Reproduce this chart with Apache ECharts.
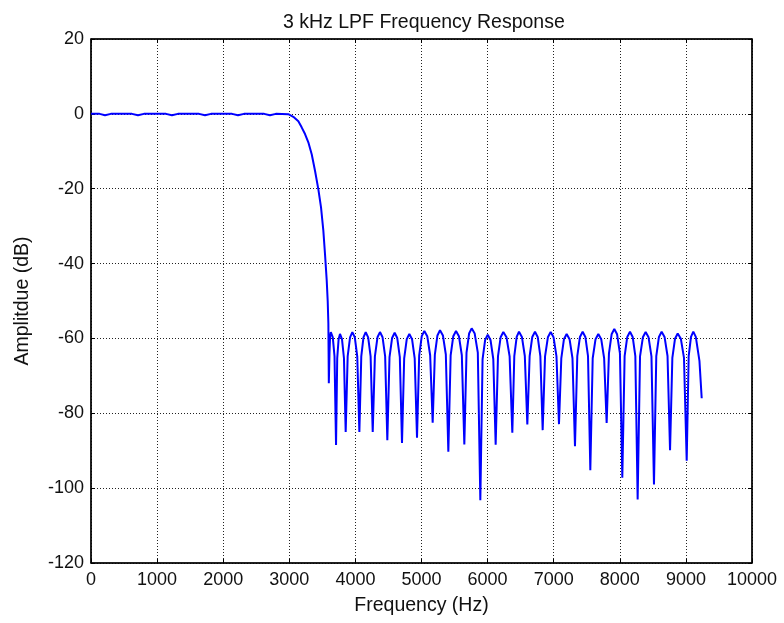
<!DOCTYPE html>
<html>
<head>
<meta charset="utf-8">
<script src="https://cdn.jsdelivr.net/npm/echarts@6/dist/echarts.min.js"></script>
<style>
html,body{margin:0;padding:0;background:#fff;}
#chart{width:784px;height:623px;}
</style>
</head>
<body>
<div id="chart"></div>
<script>
var chartTitle = '3 kHz LPF Frequency Response';
var xAxisName = 'Frequency (Hz)';
var yAxisName = 'Amplitdue (dB)';

// Passband + transition band
var passFreq = [0, 130, 212, 300, 620, 711, 800, 1135, 1225, 1315, 1635, 1725, 1815, 2134, 2224, 2314, 2620, 2708, 2796, 2985, 3061, 3137, 3187, 3238, 3288, 3339, 3389, 3439, 3480, 3515, 3540, 3566, 3581, 3591, 3598];
var passAmp  = [0, 0, -0.35, 0, 0, -0.35, 0, 0, -0.35, 0, 0, -0.35, 0, 0, -0.35, 0, 0, -0.35, 0, -0.1, -0.8, -2.0, -3.6, -5.4, -7.6, -10.8, -15.2, -20.1, -25, -31.2, -37.4, -44.5, -50, -56, -72];

// Stopband ripple (lobes and nulls)
var stopFreq = [
  3608, 3617, 3628, 3658, 3684, 3707,
  3725, 3746, 3767, 3797, 3827, 3853,
  3883, 3919, 3954, 3991, 4028, 4060,
  4089, 4122, 4156, 4193, 4230, 4262,
  4295, 4334, 4372, 4411, 4450, 4483,
  4516, 4555, 4594, 4633, 4672, 4705,
  4738, 4777, 4816, 4857, 4897, 4932,
  4965, 5004, 5043, 5087, 5131, 5169,
  5202, 5241, 5280, 5324, 5368, 5406,
  5441, 5481, 5522, 5566, 5610, 5648,
  5681, 5720, 5759, 5805, 5852, 5890,
  5924, 5963, 6002, 6044, 6086, 6122,
  6157, 6197, 6238, 6286, 6333, 6374,
  6404, 6440, 6475, 6519, 6563, 6601,
  6636, 6676, 6717, 6758, 6798, 6833,
  6869, 6912, 6954, 6998, 7042, 7080,
  7115, 7155, 7196, 7240, 7284, 7322,
  7357, 7397, 7438, 7479, 7519, 7554,
  7590, 7633, 7675, 7719, 7763, 7801,
  7836, 7876, 7917, 7959, 8002, 8038,
  8073, 8113, 8154, 8195, 8235, 8270,
  8306, 8349, 8391, 8435, 8479, 8517,
  8552, 8592, 8633, 8677, 8722, 8760,
  8795, 8835, 8876, 8924, 8971, 9012,
  9042, 9077, 9112, 9150, 9205, 9239
];
var stopAmp = [
  -64, -59.5, -58.3, -59.7, -64.8, -88.5,
  -65.3, -60.2, -58.8, -60.2, -65.3, -85,
  -64.8, -59.7, -58.3, -59.7, -64.8, -85,
  -64.8, -59.7, -58.3, -59.7, -64.8, -85,
  -64.8, -59.7, -58.3, -59.7, -64.8, -87.2,
  -65, -59.9, -58.5, -59.9, -65, -87.9,
  -65.3, -60.2, -58.8, -60.2, -65.3, -86.5,
  -64.5, -59.4, -58, -59.4, -64.5, -82.5,
  -64.3, -59.2, -57.8, -59.2, -64.3, -90.3,
  -64.5, -59.4, -58, -59.4, -64.5, -88.3,
  -63.8, -58.7, -57.3, -58.7, -63.8, -103.2,
  -65.5, -60.4, -59, -60.4, -65.5, -88.4,
  -64.8, -59.7, -58.3, -59.7, -64.8, -85.2,
  -64.7, -59.6, -58.2, -59.6, -64.7, -83,
  -64.7, -59.6, -58.2, -59.6, -64.7, -84.5,
  -64.8, -59.7, -58.3, -59.7, -64.8, -82.9,
  -65.3, -60.2, -58.8, -60.2, -65.3, -88.8,
  -64.7, -59.6, -58.2, -59.6, -64.7, -95.2,
  -65.3, -60.2, -58.8, -60.2, -65.3, -82.6,
  -64, -58.9, -57.5, -58.9, -64, -97.2,
  -64.7, -59.6, -58.2, -59.6, -64.7, -103,
  -64.8, -59.7, -58.3, -59.7, -64.8, -99,
  -64.7, -59.6, -58.2, -59.6, -64.7, -89.9,
  -65.2, -60.1, -58.7, -60.1, -65.2, -92.7,
  -64.7, -59.6, -58.2, -59.6, -66, -76
];

var xMin = 0, xMax = 10000, xStep = 1000;
var yMin = -120, yMax = 20, yStep = 20;

var freq = passFreq.concat(stopFreq);
var amp = passAmp.concat(stopAmp);
var seriesData = freq.map(function (f, i) { return [f, amp[i]]; });

var font = 'Liberation Sans, Arial, sans-serif';
var gridLine = { show: true, lineStyle: { color: '#222', type: [1, 2], width: 1 } };
var plain = function (v) { return String(v); };

var chart = echarts.init(document.getElementById('chart'), null, { renderer: 'canvas' });
chart.setOption({
  backgroundColor: '#fff',
  animation: false,
  title: {
    text: chartTitle,
    left: 278,
    top: 8,
    textStyle: { fontFamily: font, fontSize: 19.5, fontWeight: 'normal', color: '#111' }
  },
  grid: { left: 91, right: 32, top: 39, bottom: 60, show: true, borderColor: '#000', borderWidth: 1, backgroundColor: '#fff' },
  xAxis: [{
    type: 'value', min: xMin, max: xMax, interval: xStep,
    name: xAxisName, nameLocation: 'middle', nameGap: 33,
    nameTextStyle: { fontFamily: font, fontSize: 19.5, color: '#111' },
    axisLine: { show: true, onZero: false, lineStyle: { color: '#000', width: 1.5 } },
    axisTick: { show: true, inside: true, length: 4, lineStyle: { color: '#000' } },
    axisLabel: { fontFamily: font, fontSize: 18, color: '#111', margin: 8, formatter: plain },
    splitLine: gridLine
  }, {
    type: 'value', position: 'top', min: xMin, max: xMax, interval: xStep,
    axisLine: { show: true, onZero: false, lineStyle: { color: '#000', width: 1.5 } },
    axisTick: { show: true, inside: true, length: 4, lineStyle: { color: '#000' } },
    axisLabel: { show: false }, splitLine: { show: false }
  }],
  yAxis: [{
    type: 'value', min: yMin, max: yMax, interval: yStep,
    name: yAxisName, nameLocation: 'middle', nameGap: 58, nameRotate: 90,
    nameTextStyle: { fontFamily: font, fontSize: 19.5, color: '#111' },
    axisLine: { show: true, onZero: false, lineStyle: { color: '#000', width: 1.5 } },
    axisTick: { show: true, inside: true, length: 4, lineStyle: { color: '#000' } },
    axisLabel: { fontFamily: font, fontSize: 18, color: '#111', margin: 7, formatter: plain },
    splitLine: gridLine
  }, {
    type: 'value', position: 'right', min: yMin, max: yMax, interval: yStep,
    axisLine: { show: true, onZero: false, lineStyle: { color: '#000', width: 1.5 } },
    axisTick: { show: true, inside: true, length: 4, lineStyle: { color: '#000' } },
    axisLabel: { show: false }, splitLine: { show: false }
  }],
  series: [{
    type: 'line',
    data: seriesData,
    showSymbol: false,
    smooth: false,
    lineStyle: { color: '#0000ff', width: 2 },
    z: 5
  }]
});
</script>
</body>
</html>
